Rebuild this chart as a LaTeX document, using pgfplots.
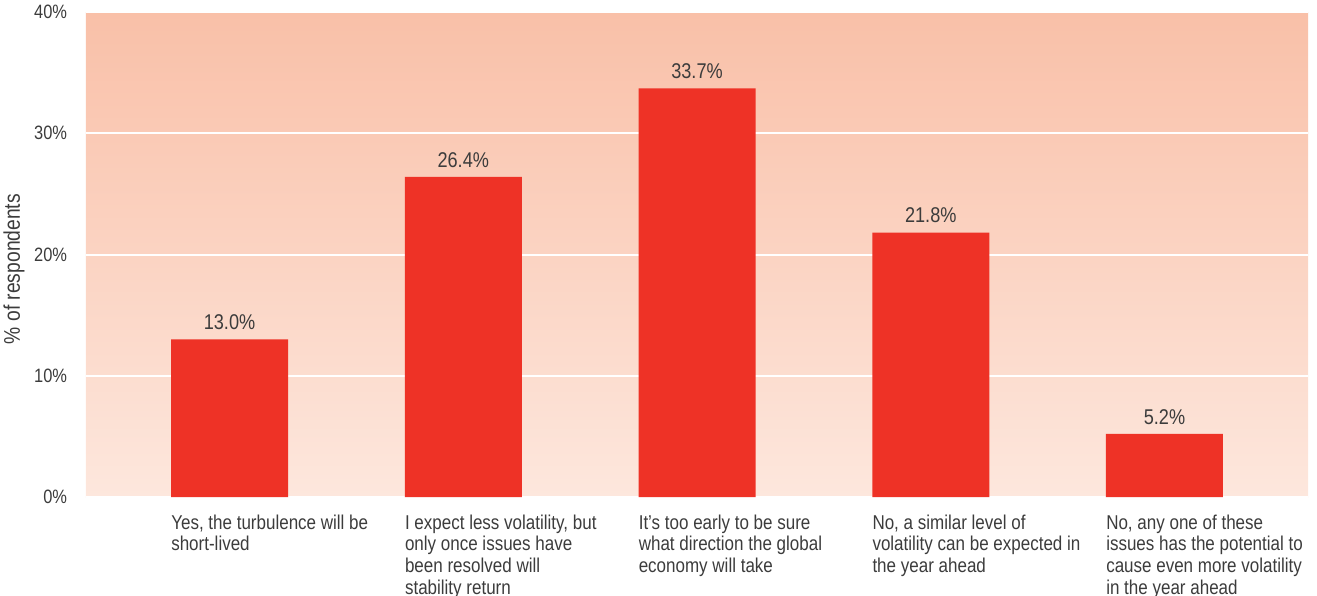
\documentclass[border=0pt]{standalone}
\usepackage{fontspec}
\setmainfont{Liberation Sans}[FakeStretch=0.85]
\usepackage{pgfplots}
\pgfplotsset{compat=1.18}
\usetikzlibrary{shadings}
\definecolor{barred}{RGB}{238,50,38}
\definecolor{bgtop}{RGB}{249,192,168}
\definecolor{bgbot}{RGB}{253,231,221}
\definecolor{txt}{RGB}{60,60,60}
\begin{document}
\begin{tikzpicture}
\useasboundingbox (-64.5pt,-74.25pt) rectangle (923.25pt,372.75pt);
\begin{axis}[
  at={(0,0)}, anchor=south west,
  scale only axis, width=916.5pt, height=363.75pt,
  xmin=-0.614, xmax=4.614, ymin=0, ymax=40,
  ybar, bar width=87.75pt,
  axis line style={draw=none},
  major tick length=0pt,
  ytick={0,10,20,30,40},
  yticklabel={\pgfmathprintnumber{\tick}\%},
  /pgf/number format/assume math mode=true,
  ymajorgrids, grid style={white, line width=1.5pt},
  axis background/.style={top color=bgtop, bottom color=bgbot},
  xtick={0,1,2,3,4},
  xticklabels={
    {Yes, the turbulence will be\\short-lived},
    {I expect less volatility, but\\only once issues have\\been resolved will\\stability return},
    {It’s too early to be sure\\what direction the global\\economy will take},
    {No, a similar level of\\volatility can be expected in\\the year ahead},
    {No, any one of these\\issues has the potential to\\cause even more volatility\\in the year ahead}},
  xticklabel style={anchor=north west, xshift=-43.875pt, yshift=-13pt, align=left,
    font=\fontsize{15}{16.3}\selectfont, text=txt, inner sep=0pt},
  yticklabel style={font=\fontsize{14.5}{16}\selectfont, text=txt, inner sep=0pt, xshift=-14pt},
  ylabel={\% of respondents},
  ylabel style={at={(axis description cs:-0.0590,0.47)}, anchor=center,
    font=\fontsize{17}{19}\selectfont, text=txt},
  nodes near coords={\pgfmathprintnumber[fixed,fixed zerofill,precision=1]{\pgfplotspointmeta}\%},
  nodes near coords style={font=\fontsize{16}{18}\selectfont, text=txt, inner sep=0pt, yshift=7pt},
]
\addplot[fill=barred, draw=none] coordinates {(0,13.0) (1,26.4) (2,33.7) (3,21.8) (4,5.2)};
\end{axis}
\end{tikzpicture}
\end{document}
